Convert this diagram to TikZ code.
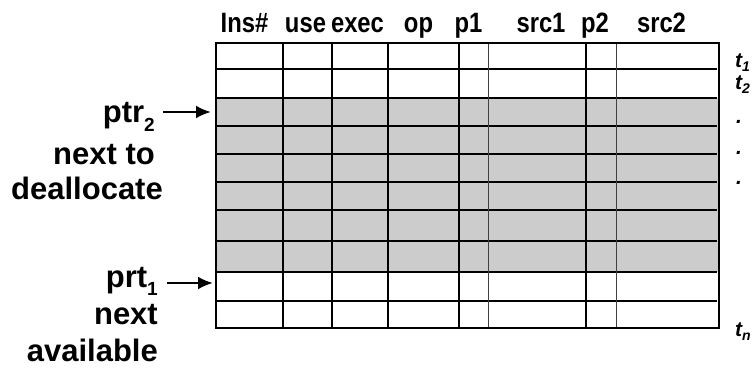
\documentclass[tikz,border=0pt]{standalone}
\usepackage{fontspec}
\setmainfont{Liberation Sans}
\usetikzlibrary{arrows.meta}
\definecolor{cellgray}{RGB}{204,204,204}
\newcommand{\lowsub}[3]{\raisebox{#2}{\fontsize{#3}{#3}\selectfont #1}}
\newcommand{\narrow}[1]{\scalebox{0.85}[1]{#1}}
\begin{document}
\begin{tikzpicture}[x=1pt,y=-1pt,
  gridline/.style={line width=2pt, line cap=rect},
  thingrid/.style={line width=1pt, black!75},
  hdr/.style={font=\fontsize{28}{32}\selectfont\bfseries, anchor=base, inner sep=0pt},
  side/.style={font=\fontsize{31}{36}\selectfont\bfseries, anchor=base east, inner sep=0pt},
  tlab/.style={font=\fontsize{21}{24}\selectfont\bfseries\itshape, anchor=base west, inner sep=0pt},
  ptrarrow/.style={line width=2.5pt, -{Latex[length=15pt,width=13pt]}}]
\useasboundingbox (0,0) rectangle (756,371);

% reorder-buffer entries in use
\fill[cellgray] (216,98) rectangle (719,272);

% row separators
\foreach \y in {69,98,126,154,182,210,241,272,301}
  \draw[gridline] (216,\y) -- (716,\y);

% column separators
\foreach \x in {283,332,388,459,586}
  \draw[gridline] (\x,43) -- (\x,328);
\foreach \x in {488,616}
  \draw[thingrid] (\x,43) -- (\x,328);

% outer frame
\draw[line width=2pt] (216,43) rectangle (719,328);

% column headings
\node[hdr] (hIns)  at (244.5,33) {\narrow{Ins\#}};
\node[hdr] (hUse)  at (305.5,33) {\narrow{use}};
\node[hdr] (hExec) at (357.5,33) {\narrow{exec}};
\node[hdr] (hOp)   at (418.5,33) {\narrow{op}};
\node[hdr] (hP1)   at (468.5,33) {\narrow{p1}};
\node[hdr] (hSrc1) at (541,33)   {\narrow{src1}};
\node[hdr] (hP2)   at (595,33)   {\narrow{p2}};
\node[hdr] (hSrc2) at (661.5,33) {\narrow{src2}};

% time labels
\node[tlab] (t1) at (735,68) {t\lowsub{1}{-4pt}{14}};
\node[tlab] (t2) at (735,90) {t\lowsub{2}{-4pt}{14}};
\node[tlab] (d1) at (736,124) {.};
\node[tlab] (d2) at (736,155) {.};
\node[tlab] (d3) at (736,185) {.};
\node[tlab] (tn) at (735,337) {t\lowsub{n}{-4pt}{14}};

% pointers
\node[side] (ptr2) at (155,123) {ptr\lowsub{2}{-9pt}{19}};
\node[side] (nxt2) at (155,165) {next to};
\node[side] (dea)  at (163,200) {deallocate};
\coordinate (head2) at (211,112);
\draw[ptrarrow] (163,112) -- (head2);

\node[side] (ptr1) at (158,288) {prt\lowsub{1}{-8pt}{19}};
\node[side] (nxt1) at (158,325) {next};
\node[side] (avl)  at (158,362) {available};
\coordinate (head1) at (213,283);
\draw[ptrarrow] (167,283) -- (head1);
\end{tikzpicture}
\end{document}
